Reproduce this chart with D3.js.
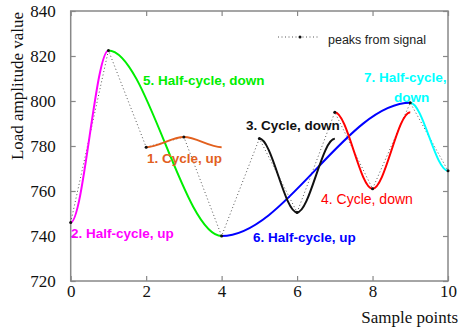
<!DOCTYPE html>
<html>
<head>
<meta charset="utf-8">
<script src="https://cdn.jsdelivr.net/npm/d3@7"></script>
<style>
  body { margin: 0; background: #fff; }
  svg { display: block; }
  .tick text { font-family: "Liberation Serif", "Times New Roman", serif; font-size: 17px; fill: #111; }
  .tick line { stroke: #888; stroke-width: 1.2; }
  .note { font-family: "Liberation Sans", Arial, sans-serif; font-size: 13.5px; font-weight: bold; }
</style>
</head>
<body>
<div id="chart"></div>
<script>
// peaks read from the signal (x = sample index)
const samplePoints = [0, 1, 2, 3, 4, 5, 6, 7, 8, 9, 10];
const peakValues = [746, 822.5, 779.5, 784, 740, 783.3, 750.5, 795, 761, 799.2, 769];

// counted cycles / half-cycles, each as a list of [sample, value]
const cycleUp1 = [[2, 779.5], [3, 784], [4, 779.5]];
const halfUp2 = [[0, 746], [1, 822.5]];
const cycleDown3 = [[5, 783.3], [6, 750.5], [7, 783.2]];
const cycleDown4 = [[7, 795], [8, 761], [9, 795]];
const halfDown5 = [[1, 822.5], [4, 740]];
const halfUp6 = [[4, 740], [9, 799.2]];
const halfDown7 = [[9, 799.2], [10, 769]];

const xTicks = [0, 2, 4, 6, 8, 10];
const yTicks = [720, 740, 760, 780, 800, 820, 840];

const width = 460, height = 331;
const plot = { left: 70.7, right: 448, top: 11, bottom: 281 };

const svg = d3.select('#chart')
  .append('svg')
  .attr('width', width)
  .attr('height', height);

const x = d3.scaleLinear().domain([0, 10]).range([plot.left, plot.right]);
const y = d3.scaleLinear().domain([720, 840]).range([plot.bottom, plot.top]);

// axes with inward ticks
svg.append('g')
  .attr('transform', `translate(0,${plot.bottom})`)
  .call(d3.axisBottom(x).tickValues(xTicks).tickSize(-5).tickPadding(4).tickFormat(d3.format('d')))
  .call(g => g.select('.domain').remove());

svg.append('g')
  .attr('transform', `translate(${plot.left},0)`)
  .call(d3.axisLeft(y).tickValues(yTicks).tickSize(-5).tickPadding(15))
  .call(g => g.select('.domain').remove());

svg.append('g')
  .attr('transform', `translate(0,${plot.top})`)
  .call(d3.axisTop(x).tickValues(xTicks).tickSize(-5).tickFormat(''))
  .call(g => g.select('.domain').remove());

svg.append('g')
  .attr('transform', `translate(${plot.right},0)`)
  .call(d3.axisRight(y).tickValues(yTicks).tickSize(-5).tickFormat(''))
  .call(g => g.select('.domain').remove());

// frame
svg.append('rect')
  .attr('x', plot.left)
  .attr('y', plot.top)
  .attr('width', plot.right - plot.left)
  .attr('height', plot.bottom - plot.top)
  .attr('fill', 'none')
  .attr('stroke', '#888')
  .attr('stroke-width', 1.5);

// half-wave curve: flat tangent at every point
const curveFlat = context => {
  let x0, y0, n;
  return {
    areaStart() {}, areaEnd() {},
    lineStart() { n = 0; },
    lineEnd() {},
    point(px, py) {
      if (n++ === 0) context.moveTo(px, py);
      else {
        const dx = (px - x0) / 3;
        context.bezierCurveTo(x0 + dx, y0, px - dx, py, px, py);
      }
      x0 = px; y0 = py;
    }
  };
};

const wave = d3.line()
  .x(d => x(d[0]))
  .y(d => y(d[1]))
  .curve(curveFlat);

// dotted peaks line
const peaks = samplePoints.map((s, i) => [s, peakValues[i]]);

svg.append('path')
  .datum(peaks)
  .attr('d', d3.line().x(d => x(d[0])).y(d => y(d[1])))
  .attr('fill', 'none')
  .attr('stroke', '#555')
  .attr('stroke-width', 1)
  .attr('stroke-dasharray', '1,2.5');

const curves = [
  { data: halfUp2, color: '#ff00ff' },
  { data: halfDown5, color: '#00ee00' },
  { data: cycleUp1, color: '#e2601e' },
  { data: halfUp6, color: '#0000ff' },
  { data: cycleDown3, color: '#111' },
  { data: cycleDown4, color: '#ff0000' },
  { data: halfDown7, color: '#00ffff' },
];

curves.forEach(c => {
  svg.append('path')
    .datum(c.data)
    .attr('d', wave)
    .attr('fill', 'none')
    .attr('stroke', c.color)
    .attr('stroke-width', 2);
});

svg.selectAll('.peak')
  .data(peaks)
  .enter()
  .append('circle')
  .attr('class', 'peak')
  .attr('cx', d => x(d[0]))
  .attr('cy', d => y(d[1]))
  .attr('r', 1.5)
  .attr('fill', '#111');

// annotations
const notes = [
  { text: '5. Half-cycle, down', color: '#00ee00', x: 143, y: 85 },
  { text: '1. Cycle, up', color: '#e2601e', x: 147, y: 163 },
  { text: '3. Cycle, down', color: '#111', x: 246, y: 130 },
  { text: '7. Half-cycle,', color: '#00ffff', x: 364, y: 82 },
  { text: 'down', color: '#00ffff', x: 394, y: 102 },
  { text: '2. Half-cycle, up', color: '#ff00ff', x: 71, y: 238 },
  { text: '6. Half-cycle, up', color: '#0000ff', x: 253, y: 242 },
];

svg.selectAll('.note')
  .data(notes)
  .enter()
  .append('text')
  .attr('class', 'note')
  .attr('x', d => d.x)
  .attr('y', d => d.y)
  .attr('fill', d => d.color)
  .text(d => d.text);

svg.append('text')
  .attr('x', 321)
  .attr('y', 203.5)
  .attr('fill', '#ff0000')
  .style('font-family', '"Liberation Sans", Arial, sans-serif')
  .style('font-size', '14px')
  .text('4. Cycle, down');

// legend
svg.append('line')
  .attr('x1', 278).attr('x2', 320)
  .attr('y1', 37).attr('y2', 37)
  .attr('stroke', '#555')
  .attr('stroke-dasharray', '1,2.5');

svg.append('circle')
  .attr('cx', 300).attr('cy', 37).attr('r', 1.5)
  .attr('fill', '#111');

svg.append('text')
  .attr('x', 328)
  .attr('y', 44)
  .attr('fill', '#222')
  .style('font-family', '"Liberation Sans", Arial, sans-serif')
  .style('font-size', '12.5px')
  .text('peaks from signal');

// axis titles
svg.append('text')
  .attr('transform', 'translate(23,86) rotate(-90)')
  .attr('text-anchor', 'middle')
  .attr('fill', '#111')
  .style('font-family', '"Liberation Serif", "Times New Roman", serif')
  .style('font-size', '17px')
  .text('Load amplitude value');

svg.append('text')
  .attr('x', 458)
  .attr('y', 323)
  .attr('text-anchor', 'end')
  .attr('fill', '#111')
  .style('font-family', '"Liberation Serif", "Times New Roman", serif')
  .style('font-size', '17px')
  .text('Sample points');
</script>
</body>
</html>
